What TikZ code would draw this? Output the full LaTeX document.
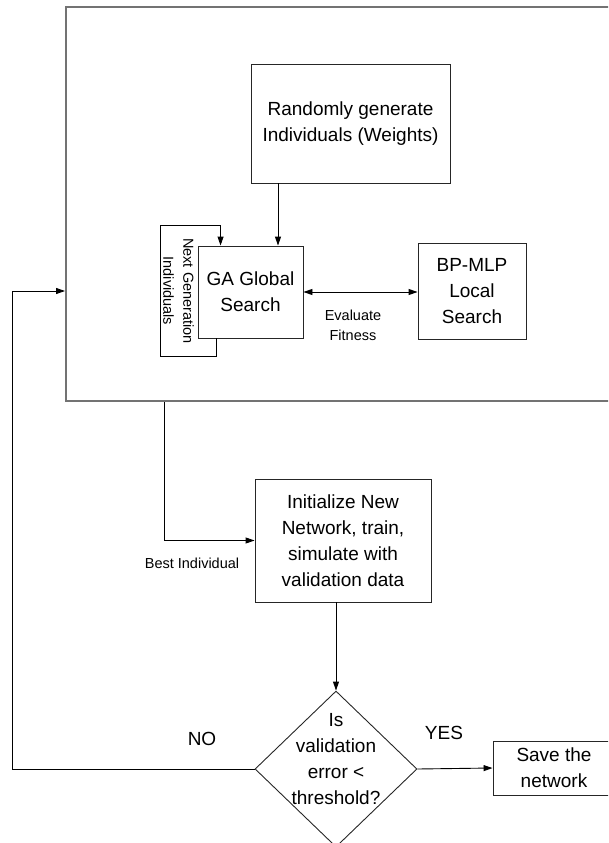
\documentclass[tikz,border=0pt]{standalone}
\usepackage{fontspec}
\setmainfont{Liberation Sans}
\usetikzlibrary{arrows.meta, shapes.geometric}

\tikzset{
  box/.style={draw=black!85, line width=0.9pt, align=center, inner sep=0pt, font=\fontsize{19}{26}\selectfont},
  big/.style={align=center, font=\fontsize{19}{26}\selectfont},
  small/.style={align=center, font=\fontsize{14.5}{20}\selectfont},
  arr/.style={line width=0.9pt, -{Triangle[length=9pt,width=6pt]}},
}

\begin{document}
\begin{tikzpicture}[x=1pt, y=-1pt]
        \clip (0,0) rectangle (608,843);

        % big frame, runs out past the right edge
        \node[draw=black!55, line width=2pt, minimum width=554pt, minimum height=394pt] (frame) at (343,204) {};

        \node[box, minimum width=199pt, minimum height=119pt] (rand_box) at (350.5,123.5) {Randomly generate\\Individuals (Weights)};
        \node[box, minimum width=105pt, minimum height=92pt] (ga_box) at (250.5,292) {GA Global\\Search};
        \node[box, minimum width=108pt, minimum height=96pt] (bp_box) at (472,291) {BP-MLP\\Local\\Search};
        \node[box, minimum width=176pt, minimum height=123pt] (init_box) at (343,540.5) {Initialize New\\Network, train,\\simulate with\\validation data};
        \node[draw=black!85, line width=0.9pt, diamond, inner sep=0pt, minimum width=162pt, minimum height=156pt] (check) at (336,769) {};
        \node[big] (check_text) at (336,759) {Is\\validation\\error <\\threshold?};
        \node[box, minimum width=122pt, minimum height=54pt] (save_box) at (554,768) {Save the\\network};

        % next generation loop
        \draw[arr] ([xshift=19pt]ga_box.south west) -- ++(0,18) -| (160,225) -| ([xshift=23pt]ga_box.north west);
        \node[small, rotate=-90] (next_gen) at (178.5,291) {Next Generation\\Individuals};

        \draw[arr] ([xshift=-72.5pt]rand_box.south) -- ([xshift=27.5pt]ga_box.north);
        \draw[line width=0.9pt, {Triangle[length=9pt,width=6pt]}-{Triangle[length=9pt,width=6pt]}] (ga_box.east) -- (bp_box.west |- ga_box.east);
        \node[small] (fit_label) at (353,325) {Evaluate\\Fitness};

        \draw[arr] ([xshift=-179pt]frame.south) |- (init_box.west);
        \node[small] (best_label) at (192,563) {Best Individual};

        \draw[arr] (init_box.south -| check.north) -- (check.north);
        \draw[arr] (check.east) -- (save_box.west);
        \draw[arr] (check.west) -| (12,291) -- (frame.west |- 0,291);

        \node[big] (no_label) at (202,739) {NO};
        \node[big] (yes_label) at (444,733) {YES};
\end{tikzpicture}
\end{document}
